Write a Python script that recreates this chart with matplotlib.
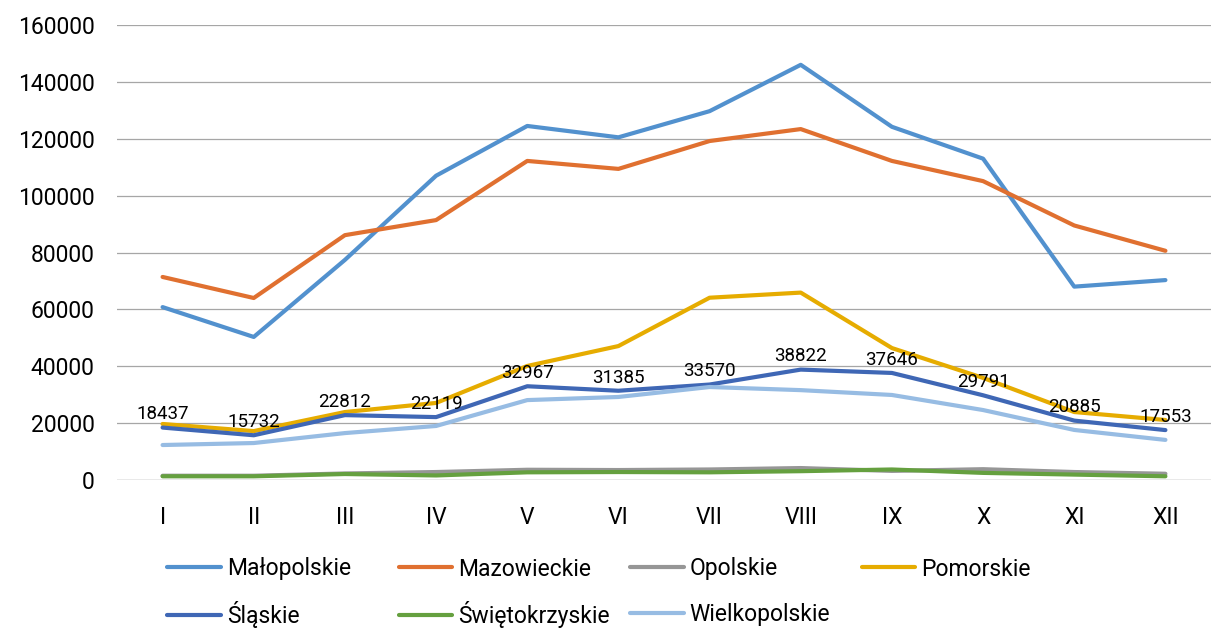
import matplotlib.pyplot as plt

# months and regions
months = ['I', 'II', 'III', 'IV', 'V', 'VI', 'VII', 'VIII', 'IX', 'X', 'XI', 'XII']

malopolskie = [60800, 50300, 77400, 107000, 124500, 120500, 129700, 146000, 124200, 113000, 68000, 70300]
mazowieckie = [71400, 64000, 86100, 91400, 112200, 109400, 119200, 123400, 112200, 105100, 89500, 80600]
opolskie = [1500, 1500, 2300, 2800, 3600, 3500, 3700, 4200, 3200, 3800, 2800, 2200]
pomorskie = [19700, 17200, 23900, 27100, 40100, 47100, 64100, 65900, 46400, 35900, 23900, 21100]
slaskie = [18437, 15732, 22812, 22119, 32967, 31385, 33570, 38822, 37646, 29791, 20885, 17553]
swietokrzyskie = [1300, 1300, 2100, 1600, 2700, 2800, 2700, 3100, 3700, 2500, 1900, 1300]
wielkopolskie = [12300, 13000, 16500, 19000, 28100, 29200, 32700, 31600, 29900, 24600, 17600, 14100]

series = [
    ('Małopolskie', malopolskie, '#5291CE'),
    ('Mazowieckie', mazowieckie, '#E07030'),
    ('Opolskie', opolskie, '#969696'),
    ('Pomorskie', pomorskie, '#E6AC00'),
    ('Śląskie', slaskie, '#3F67B5'),
    ('Świętokrzyskie', swietokrzyskie, '#65A03F'),
    ('Wielkopolskie', wielkopolskie, '#97BCE3'),
]

plt.rcParams['font.family'] = ['Roboto', 'DejaVu Sans']

fig = plt.figure(figsize=(12.11, 6.30), dpi=100)
ax = fig.add_axes([117 / 1211, 150 / 630, 1094 / 1211, 455 / 630])

x = list(range(len(months)))
handles = []
for name, vals, col in series:
    h, = ax.plot(x, vals, color=col, lw=3, label=name, solid_capstyle='round')
    handles.append(h)

# data labels for Slaskie
for i, v in enumerate(slaskie):
    ax.annotate(str(v), (i, v), xytext=(0, 3), textcoords='offset points',
                ha='center', va='bottom', fontsize=13.5, color='black')

ax.set_xlim(-0.5, 11.5)
ax.set_ylim(0, 160000)
ax.set_yticks(range(0, 160001, 20000))
ax.set_xticks(x)
ax.set_xticklabels(months)
ax.yaxis.grid(True, color='#A6A6A6', lw=0.9)
ax.set_axisbelow(True)
for s in ['top', 'right', 'left', 'bottom']:
    ax.spines[s].set_visible(False)
ax.axhline(0, color='#A6A6A6', lw=0.9, zorder=0.5)
ax.tick_params(axis='both', length=0, labelsize=16.5)
ax.tick_params(axis='y', pad=16)
ax.tick_params(axis='x', pad=19)

# excel style legend: 4 equal-width columns, filled row by row
ncol = 4
for i, (name, vals, col) in enumerate(series):
    r, c = divmod(i, ncol)
    fig.legend([handles[i]], [name], loc='center left',
               bbox_to_anchor=((167 + c * 231.5) / 1211, 1 - (569 + r * 46) / 630),
               frameon=False, fontsize=16.5, handlelength=2.35,
               handletextpad=0.26, borderpad=0, borderaxespad=0)

fig.savefig('out.png', dpi=100)
